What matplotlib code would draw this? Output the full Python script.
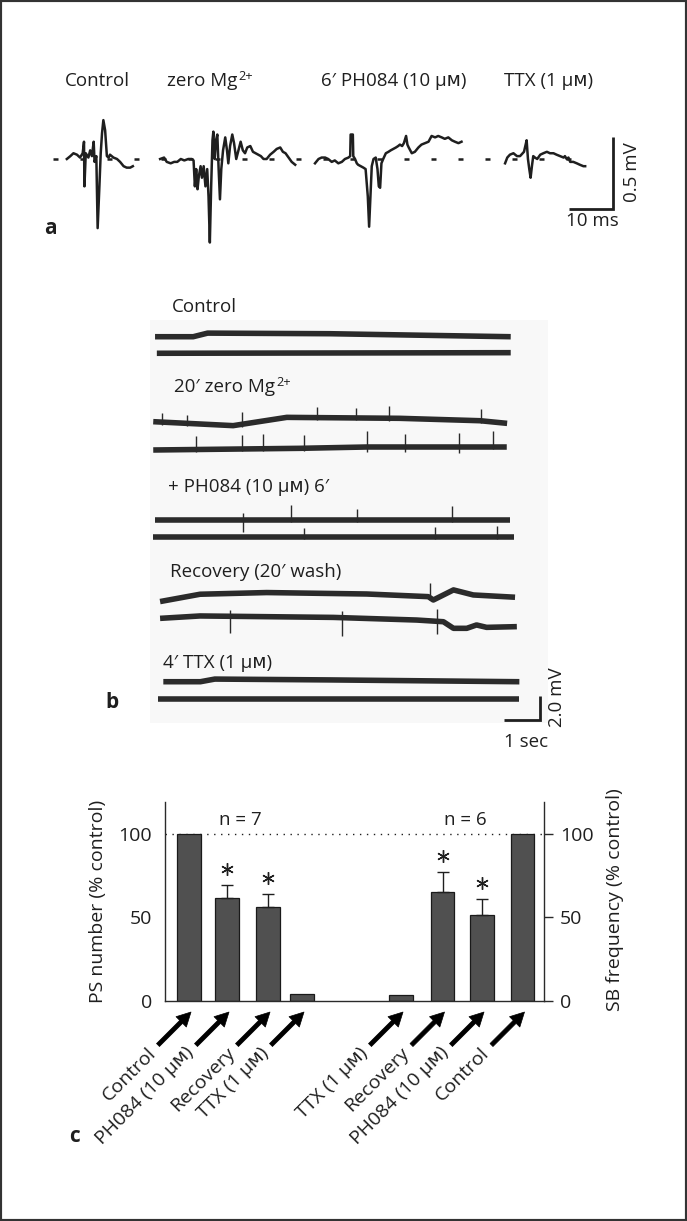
import numpy as np
import matplotlib
matplotlib.use('Agg')
import matplotlib.pyplot as plt
from matplotlib.patches import Rectangle

plt.rcParams['font.family'] = ['Open Sans', 'DejaVu Sans']
plt.rcParams['font.size'] = 13.5

W, H = 687, 1221
INK = '#1f1f1f'
FS = 13.5

# ---------------- panel a: single field responses (time ms, voltage mV)
a_titles = ['Control', 'zero Mg', '6′ PH084 (10 μᴍ)', 'TTX (1 μᴍ)']

ctrl_t = [0.0, 0.8, 1.5, 2.3, 3.0, 3.6, 3.9, 4.0, 4.3, 4.9, 5.3, 5.7, 6.1, 6.3, 6.7,
          7.0, 7.4, 7.7, 8.0, 8.3, 8.7, 9.1, 9.5, 9.8, 10.6, 11.4, 12.1, 12.9, 13.6, 14.4, 15.0]
ctrl_v = [0.0, 0.02, 0.04, 0.03, 0.01, 0.04, 0.12, -0.19, 0.04, 0.01, 0.06, 0.02, 0.12, -0.02, 0.02,
          -0.48, -0.19, 0.04, 0.18, 0.27, 0.20, 0.02, 0.01, 0.03, 0.01, 0.0, -0.02, -0.05, -0.06, -0.06, -0.05]

mg_t = [0.0, 0.9, 1.5, 2.4, 3.2, 3.9, 4.7, 5.5, 6.4, 7.2, 7.6, 7.9, 8.2, 8.5, 8.8, 9.2, 9.5, 9.9,
        10.3, 10.7, 11.0, 11.3, 11.6, 11.9, 12.1, 12.4, 12.7, 13.0, 13.3, 13.6, 13.9, 14.3, 14.8,
        15.2, 15.5, 15.9, 16.4, 16.8, 17.3, 17.8, 18.3, 18.8, 19.3, 19.8, 20.5, 21.1, 21.7, 22.3,
        22.9, 23.5, 24.2, 25.0, 25.8, 26.5, 27.3, 27.9, 28.5, 29.2, 29.9, 30.7]
mg_v = [0.0, 0.01, -0.02, -0.03, -0.02, -0.02, 0.0, -0.01, 0.0, 0.0, -0.01, -0.19, -0.07, -0.21,
        -0.12, -0.05, -0.13, -0.05, -0.19, -0.07, -0.26, -0.58, -0.19, 0.13, 0.19, 0.0, 0.13, 0.17,
        -0.07, -0.28, -0.07, 0.06, 0.15, 0.06, -0.03, 0.09, 0.17, 0.11, 0.0, 0.06, 0.12, 0.06, 0.04,
        0.08, 0.09, 0.05, 0.04, 0.03, 0.02, 0.0, 0.0, 0.03, 0.05, 0.07, 0.08, 0.05, 0.04, 0.01,
        -0.02, -0.04]

ph_t = [0.0, 0.8, 1.5, 2.3, 3.0, 3.8, 4.5, 5.3, 6.1, 6.8, 7.6, 8.0, 8.1, 8.6, 8.7, 9.1, 9.5,
        9.8, 10.4, 11.0, 11.5, 12.0, 12.3, 12.6, 12.9, 13.3, 13.8, 14.2, 14.5, 14.8, 15.1, 15.5,
        16.1, 16.7, 17.2, 17.8, 18.4, 18.9, 19.3, 19.8, 20.2, 20.7, 21.0, 21.3, 22.0, 22.7, 23.5,
        24.2, 25.0, 25.8, 26.5, 27.3, 28.0, 28.8, 29.5, 30.3, 31.1, 31.8, 32.6, 33.3]
ph_v = [-0.03, 0.0, 0.01, 0.01, 0.0, -0.02, -0.01, -0.03, -0.02, 0.0, 0.01, 0.02, 0.17, 0.17,
        0.02, 0.0, -0.03, -0.04, -0.05, -0.06, -0.07, -0.26, -0.47, -0.26, -0.05, 0.0, 0.01, -0.07,
        -0.19, -0.20, -0.03, 0.0, 0.04, 0.05, 0.06, 0.07, 0.08, 0.09, 0.10, 0.09, 0.11, 0.16, 0.10,
        0.08, 0.04, 0.05, 0.08, 0.10, 0.11, 0.12, 0.16, 0.15, 0.16, 0.15, 0.14, 0.15, 0.13, 0.12,
        0.11, 0.12]

ttx_t = [0.0, 0.5, 1.1, 1.9, 2.7, 3.4, 4.0, 4.3, 4.6, 4.9, 5.2, 5.5, 5.8, 6.1, 6.4, 6.8, 7.3,
         8.0, 8.7, 9.5, 10.2, 11.0, 11.7, 12.5, 13.3, 13.6, 14.0, 14.4, 14.8, 15.5, 16.3, 17.0,
         17.8, 18.2]
ttx_v = [-0.03, 0.01, 0.03, 0.04, 0.02, 0.02, 0.04, 0.05, 0.09, 0.13, 0.0, -0.07, -0.13, -0.05,
         0.02, 0.01, 0.0, 0.03, 0.04, 0.05, 0.04, 0.04, 0.03, 0.02, 0.01, 0.02, 0.0, 0.01, -0.02,
         -0.02, -0.03, -0.04, -0.05, -0.05]

# ---------------- panel b: continuous recordings (time s, drift mV, spikes)
b_labels = ['Control', '20′ zero Mg', '+ PH084 (10 μᴍ) 6′', 'Recovery (20′ wash)', '4′ TTX (1 μᴍ)']

ctrl1_t = [0.14, 1.2, 1.6, 5.0, 10.02]
ctrl1_v = [0.0, 0.0, 0.3, 0.25, 0.0]
ctrl2_t = [0.19, 10.02]
ctrl2_v = [0.0, 0.05]

mg1_t = [0.09, 2.31, 3.8, 6.94, 9.17, 9.92]
mg1_v = [0.0, -0.33, 0.36, 0.28, 0.08, -0.14]
mg1_spk = [0.34, 1.04, 2.56, 4.64, 5.72, 6.64, 9.19]
mg1_up = [0.8, 0.7, 1.0, 0.9, 0.8, 1.0, 1.0]
mg1_dn = [-0.2, -0.2, -0.25, -0.2, -0.2, -0.2, -0.2]
mg2_t = [0.09, 4.17, 6.02, 9.91]
mg2_v = [0.0, 0.14, 0.25, 0.25]
mg2_spk = [1.27, 2.55, 3.15, 4.28, 6.02, 7.08, 8.59, 9.54]
mg2_up = [1.1, 1.2, 1.2, 1.1, 1.3, 1.1, 1.2, 1.3]
mg2_dn = [-0.2, -0.2, -0.2, -0.2, -0.45, -0.4, -0.5, -0.2]

ph1_t = [0.14, 10.0]
ph1_v = [0.0, 0.0]
ph1_spk = [2.57, 3.92, 5.74, 8.38]
ph1_up = [0.56, 1.25, 0.9, 1.2]
ph1_dn = [-1.0, -0.2, -0.2, -0.2]
ph2_t = [0.09, 10.1]
ph2_v = [0.0, 0.0]
ph2_spk = [4.28, 7.92, 9.65]
ph2_up = [0.7, 0.83, 0.9]
ph2_dn = [-0.2, -0.2, -0.2]

rec1_t = [0.28, 1.39, 3.24, 6.02, 7.73, 7.87, 8.43, 8.98, 10.14]
rec1_v = [-0.69, -0.08, 0.06, -0.06, -0.28, -0.56, 0.28, -0.14, -0.33]
rec1_spk = [7.78]
rec1_up = [1.2]
rec1_dn = [-0.2]
rec2_t = [0.28, 1.39, 5.09, 7.41, 8.15, 8.43, 8.8, 9.07, 9.35, 10.19]
rec2_v = [-0.14, 0.06, -0.06, -0.28, -0.42, -0.97, -0.97, -0.69, -0.89, -0.83]
rec2_spk = [2.22, 5.32, 7.98]
rec2_up = [0.56, 0.56, 1.0]
rec2_dn = [-1.4, -1.5, -1.05]

ttx1_t = [0.37, 1.4, 1.8, 5.0, 10.26]
ttx1_v = [0.0, 0.0, 0.22, 0.15, 0.0]
ttx2_t = [0.23, 10.26]
ttx2_v = [0.0, 0.0]

# ---------------- panel c: summary (% control)
ps_labels = ['Control', 'PH084 (10 μᴍ)', 'Recovery', 'TTX (1 μᴍ)']
ps_mean = [100, 61.5, 56, 3.8]
ps_sem = [0, 8, 8, 0]
ps_sig = [False, True, True, False]
sb_labels = ['TTX (1 μᴍ)', 'Recovery', 'PH084 (10 μᴍ)', 'Control']
sb_mean = [3.6, 65.5, 51.5, 100]
sb_sem = [0, 12, 9.4, 0]
sb_sig = [False, True, True, False]
n_text = ['n = 7', 'n = 6']


fig = plt.figure(figsize=(W / 100, H / 100), dpi=100)
renderer = fig.canvas.get_renderer()


def px_axes(left, top, right, bottom):
    return fig.add_axes([left / W, 1 - bottom / H, (right - left) / W, (bottom - top) / H])


def ftext(x, y, s, **kw):
    kw.setdefault('color', INK)
    kw.setdefault('fontsize', FS)
    return fig.text(x / W, 1 - y / H, s, **kw)


def with_sup(x, y, s, sup):
    # base text left-aligned, superscript set after it
    t = ftext(x, y, s, ha='left', va='center')
    bb = t.get_window_extent(renderer=renderer)
    fig.text((bb.x1 + 1) / W, (bb.y0 + bb.height * 0.5 + 5) / H, sup, ha='left',
             va='center', fontsize=FS * 0.68, color=INK)


# ---- panel a
axa = px_axes(40, 60, 660, 250)
axa.set_xlim(0, 620 / 4.4)
axa.set_ylim(-(250 - 159) / 144, (159 - 60) / 144)
axa.axis('off')
axa.plot([2.95, 120.7], [0, 0], color=INK, lw=1.8, ls=(0, (2, 8.8)),
         dash_capstyle='butt', zorder=1)
a_offsets = [6.1, 27.3, 62.5, 105.7]
for off, t, v in zip(a_offsets, [ctrl_t, mg_t, ph_t, ttx_t], [ctrl_v, mg_v, ph_v, ttx_v]):
    axa.plot(np.array(t) + off, v, color=INK, lw=1.8, zorder=2)
axa.plot([120.2, 130.2, 130.2], [-0.347, -0.347, 0.153], color=INK, lw=2,
         solid_joinstyle='miter', solid_capstyle='butt')
ftext(97, 81, a_titles[0], ha='center', va='center')
with_sup(167, 81, a_titles[1], '2+')
ftext(394, 81, a_titles[2], ha='center', va='center')
ftext(549, 81, a_titles[3], ha='center', va='center')
ftext(632, 172, '0.5 mV', rotation=90, ha='center', va='center')
ftext(592, 221, '10 ms', ha='center', va='center')
ftext(50, 229, 'a', ha='center', va='center', fontsize=15, fontweight='bold')

# ---- panel b
axb = px_axes(150, 320, 548, 723)
axb.set_xlim(0, 398 / 36)
axb.set_ylim(0, 403 / 12)
axb.set_xticks([])
axb.set_yticks([])
for s in axb.spines.values():
    s.set_visible(False)
axb.set_facecolor('#f8f8f8')

sweeps = [
    (ctrl1_t, ctrl1_v, [], [], []),
    (ctrl2_t, ctrl2_v, [], [], []),
    (mg1_t, mg1_v, mg1_spk, mg1_up, mg1_dn),
    (mg2_t, mg2_v, mg2_spk, mg2_up, mg2_dn),
    (ph1_t, ph1_v, ph1_spk, ph1_up, ph1_dn),
    (ph2_t, ph2_v, ph2_spk, ph2_up, ph2_dn),
    (rec1_t, rec1_v, rec1_spk, rec1_up, rec1_dn),
    (rec2_t, rec2_v, rec2_spk, rec2_up, rec2_dn),
    (ttx1_t, ttx1_v, [], [], []),
    (ttx2_t, ttx2_v, [], [], []),
]
row_y = [32.19, 30.81, 25.11, 22.75, 16.92, 15.53, 10.81, 8.86, 3.44, 1.98]
for y0, (t, v, spk, up, dn) in zip(row_y, sweeps):
    axb.plot(t, np.array(v) + y0, color='#2b2b2b', lw=4.0, solid_capstyle='butt')
    if spk:
        base = np.interp(spk, t, v) + y0
        axb.vlines(spk, base + np.array(dn), base + np.array(up), color='#2a2a2a', lw=1.0)
axb.plot([9.83, 10.83, 10.83], [0.25, 0.25, 2.25], color=INK, lw=2,
         solid_joinstyle='miter', solid_capstyle='butt')
ftext(172, 307, b_labels[0], ha='left', va='center')
with_sup(174, 387, b_labels[1], '2+')
ftext(168, 487, b_labels[2], ha='left', va='center')
ftext(170, 572, b_labels[3], ha='left', va='center')
ftext(163, 663, b_labels[4], ha='left', va='center')
ftext(526, 742, '1 sec', ha='center', va='center')
ftext(557, 697, '2.0 mV', rotation=90, ha='center', va='center')
ftext(112, 703, 'b', ha='center', va='center', fontsize=15, fontweight='bold')

# ---- panel c
axc = px_axes(165, 802.4, 544, 1000.7)
axc.set_xlim(0, 379)
axc.set_ylim(0, 119)
left_x = [24, 62, 103, 137]
right_x = [236, 277.5, 317, 357.5]
bw = 23.5
axc.plot([0, 379], [100, 100], color=INK, lw=1, ls=(0, (1, 4)), zorder=1)
for xs, means, sems, sigs, labels in [(left_x, ps_mean, ps_sem, ps_sig, ps_labels),
                                      (right_x, sb_mean, sb_sem, sb_sig, sb_labels)]:
    axc.bar(xs, means, width=bw, color='#505050', edgecolor='#1a1a1a', lw=0.9, zorder=2)
    for x, m, e, sig, lab in zip(xs, means, sems, sigs, labels):
        if e > 0:
            axc.errorbar(x, m, yerr=[[0], [e]], fmt='none', ecolor=INK, elinewidth=1,
                         capsize=4.3, capthick=1, zorder=3)
        if sig:
            axc.plot(x, m + e + 9.5, marker=(6, 2, 0), ms=9, mew=1.0, color=INK,
                     ls='none', clip_on=False)
        axc.annotate('', xy=(x + 2, -6.8), xytext=(-33, -33), textcoords='offset pixels',
                     annotation_clip=False,
                     arrowprops=dict(arrowstyle='simple,head_length=1.0,head_width=1.05,tail_width=0.3',
                                     fc='black', ec='black', lw=0.5, mutation_scale=10,
                                     shrinkA=0, shrinkB=0))
        axc.annotate(lab, xy=(x + 2, -6.8), xytext=(-38, -38), textcoords='offset pixels',
                     annotation_clip=False, rotation=45, rotation_mode='anchor',
                     ha='right', va='center', fontsize=14, color=INK)

axc.text(75, 108.6, n_text[0], ha='center', va='center', fontsize=FS, color=INK)
axc.text(300, 108.6, n_text[1], ha='center', va='center', fontsize=FS, color=INK)
axc.set_xticks([])
axc.set_yticks([0, 50, 100])
axc.tick_params(axis='y', length=0, pad=9.5, labelsize=14, labelcolor=INK)
axc.spines['top'].set_visible(False)
axc.spines['right'].set_visible(False)
for s in ['left', 'bottom']:
    axc.spines[s].set_linewidth(1)
    axc.spines[s].set_color('#2a2a2a')

axr = axc.twinx()
axr.set_ylim(0, 119)
axr.set_yticks([0, 50, 100])
axr.tick_params(axis='y', length=6.5, width=1, pad=5, labelsize=14, labelcolor=INK, color='#2a2a2a')
for s in ['top', 'left', 'bottom']:
    axr.spines[s].set_visible(False)
axr.spines['right'].set_linewidth(1)
axr.spines['right'].set_color('#2a2a2a')

ftext(98, 901, 'PS number (% control)', rotation=90, ha='center', va='center', fontsize=14)
ftext(615, 900, 'SB frequency (% control)', rotation=90, ha='center', va='center', fontsize=14)
ftext(74, 1136, 'c', ha='center', va='center', fontsize=15, fontweight='bold')

fig.patches.append(Rectangle((0, 0), 1, 1, transform=fig.transFigure, fill=False,
                             lw=3, ec='#333333'))

fig.savefig('out.png', dpi=100)
